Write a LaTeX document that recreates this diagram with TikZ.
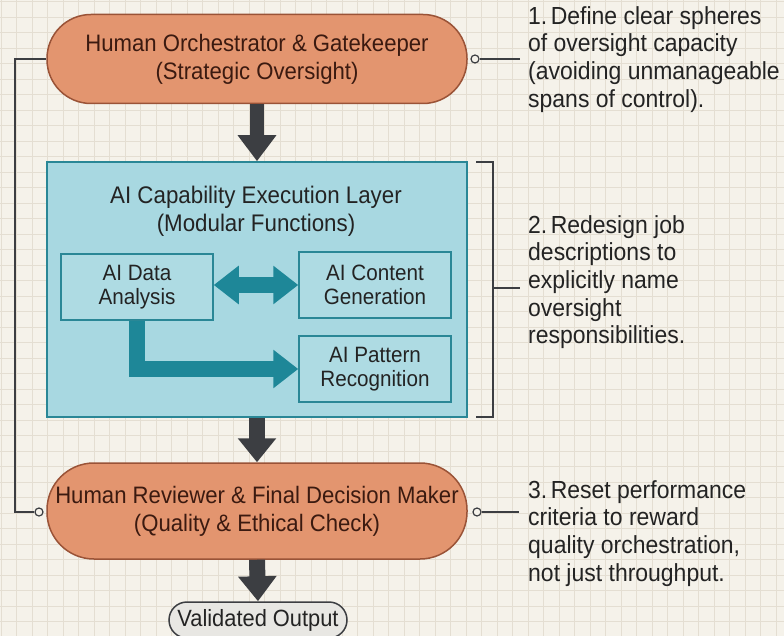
\documentclass[tikz,border=0pt]{standalone}
\usepackage{fontspec}
\setmainfont{Liberation Sans}[FakeStretch=0.93]
\usetikzlibrary{arrows.meta}
\definecolor{bg}{HTML}{F5F2EA}
\definecolor{gridc}{HTML}{E4DED2}
\definecolor{orf}{HTML}{E3956F}
\definecolor{ord}{HTML}{9A5337}
\definecolor{otext}{HTML}{3B1A10}
\definecolor{bluef}{HTML}{A8D8E1}
\definecolor{blued}{HTML}{2A8796}
\definecolor{innerf}{HTML}{AEDBE3}
\definecolor{tealc}{HTML}{1E8798}
\definecolor{darkar}{HTML}{3C3E42}
\definecolor{ink}{HTML}{232323}
\definecolor{validf}{HTML}{E8E7E3}
\tikzset{
  pill/.style={draw=ord, fill=orf, line width=1.5pt, minimum width=420pt, text=otext,
    align=center, inner sep=0pt, font=\fontsize{23.8}{28}\selectfont},
  layerbox/.style={draw=blued, fill=bluef, line width=1.5pt, minimum width=420pt, minimum height=255pt, inner sep=0pt},
  modbox/.style={draw=blued, fill=innerf, line width=1.5pt, minimum width=152pt, minimum height=66pt,
    align=center, inner sep=0pt, text=ink, font=\fontsize{22.2}{24.5}\selectfont},
  layertitle/.style={align=center, inner sep=0pt, text=ink, font=\fontsize{24}{28}\selectfont},
  note/.style={align=left, anchor=north west, inner sep=0pt, text=ink, font=\fontsize{24.7}{27.7}\selectfont},
  dot/.style={circle, draw=darkar, fill=bg, line width=1.2pt, inner sep=0pt, minimum size=8pt},
  conn/.style={draw=darkar, line width=1.5pt},
  brk/.style={draw=darkar, line width=2pt},
  darrow/.style={draw=darkar, line width=14pt, -{Triangle[width=37pt,length=26pt]}},
  tarrow/.style={draw=tealc, line width=16pt},
  validbox/.style={draw=darkar, fill=validf, line width=1.5pt, rounded corners=18pt, minimum width=178pt,
    minimum height=36pt, inner sep=0pt, text=ink, font=\fontsize{23.5}{25}\selectfont}
}
\begin{document}
\begin{tikzpicture}[x=1pt,y=-1pt]
\fill[bg] (0,0) rectangle (784,636);
\useasboundingbox (0,0) rectangle (784,636);
\foreach \i in {1,16.5,...,784} \draw[gridc, line width=0.7pt] (\i,0) -- (\i,636);
\foreach \j in {1.5,17,...,636} \draw[gridc, line width=0.7pt] (0,\j) -- (784,\j);

% main nodes
\node[pill, minimum height=89pt, rounded corners=44pt] (top) at (257,59)
  {Human Orchestrator \& Gatekeeper\\(Strategic Oversight)};
\node[layerbox] (layer) at (257,289.5) {};
\node[layertitle] (ltitle) at (256,211) {AI Capability Execution Layer\\(Modular Functions)};
\node[modbox] (da) at (137,287) {AI Data\\Analysis};
\node[modbox] (cg) at (375,285) {AI Content\\Generation};
\node[modbox] (pr) at (375,369) {AI Pattern\\Recognition};
\node[pill, minimum height=96pt, rounded corners=47pt] (rev) at (257,511)
  {Human Reviewer \& Final Decision Maker\\(Quality \& Ethical Check)};
\node[validbox] (valid) at (258,620) {Validated Output};

% dark arrows
\draw[darrow] (top.south) -- (layer.north);
\draw[darrow, line width=16pt, -{Triangle[width=37pt,length=24pt]}] (layer.south) -- (rev.north);
\draw[darrow, line width=16pt, -{Triangle[width=37pt,length=25pt]}] (rev.south) -- (valid.north);

% teal arrows
\draw[tarrow, {Triangle[width=37pt,length=25pt]}-{Triangle[width=37pt,length=25pt]}]
  (da.east |- cg.west) -- (cg.west);
\draw[tarrow, line join=miter, -{Triangle[width=37pt,length=25pt]}] (da.south) |- (pr.west);

% left feedback connector
\coordinate (lt) at (15,59);
\coordinate (lb) at (15,512);
\node[dot] (cl) at (39,512) {};
\draw[conn] (top.west) -- (lt) -- (lb) -- (cl);

% notes
\node[note] (note1) at (528,6) {1.\hspace{0.14em}Define clear spheres\\of oversight capacity\\(avoiding unmanageable\\spans of control).};
\node[note] (note2) at (528,215) {2.\hspace{0.14em}Redesign job\\descriptions to\\explicitly name\\oversight\\responsibilities.};
\node[note] (note3) at (528,480) {3.\hspace{0.14em}Reset performance\\criteria to reward\\quality orchestration,\\not just throughput.};

% note connectors
\node[dot] (cr1) at (475,59) {};
\coordinate (e1) at (520,59);
\draw[conn] (cr1) -- (e1);
\node[dot] (cr3) at (477,512) {};
\coordinate (e3) at (519,512);
\draw[conn] (cr3) -- (e3);

% bracket
\coordinate (bt1) at (476,162);
\coordinate (bt2) at (493,162);
\coordinate (bb2) at (493,417);
\coordinate (bb1) at (476,417);
\coordinate (bm1) at (493,288);
\coordinate (bm2) at (520,288);
\draw[brk] (bt1) -- (bt2) -- (bb2) -- (bb1);
\draw[brk] (bm1) -- (bm2);
\end{tikzpicture}
\end{document}
